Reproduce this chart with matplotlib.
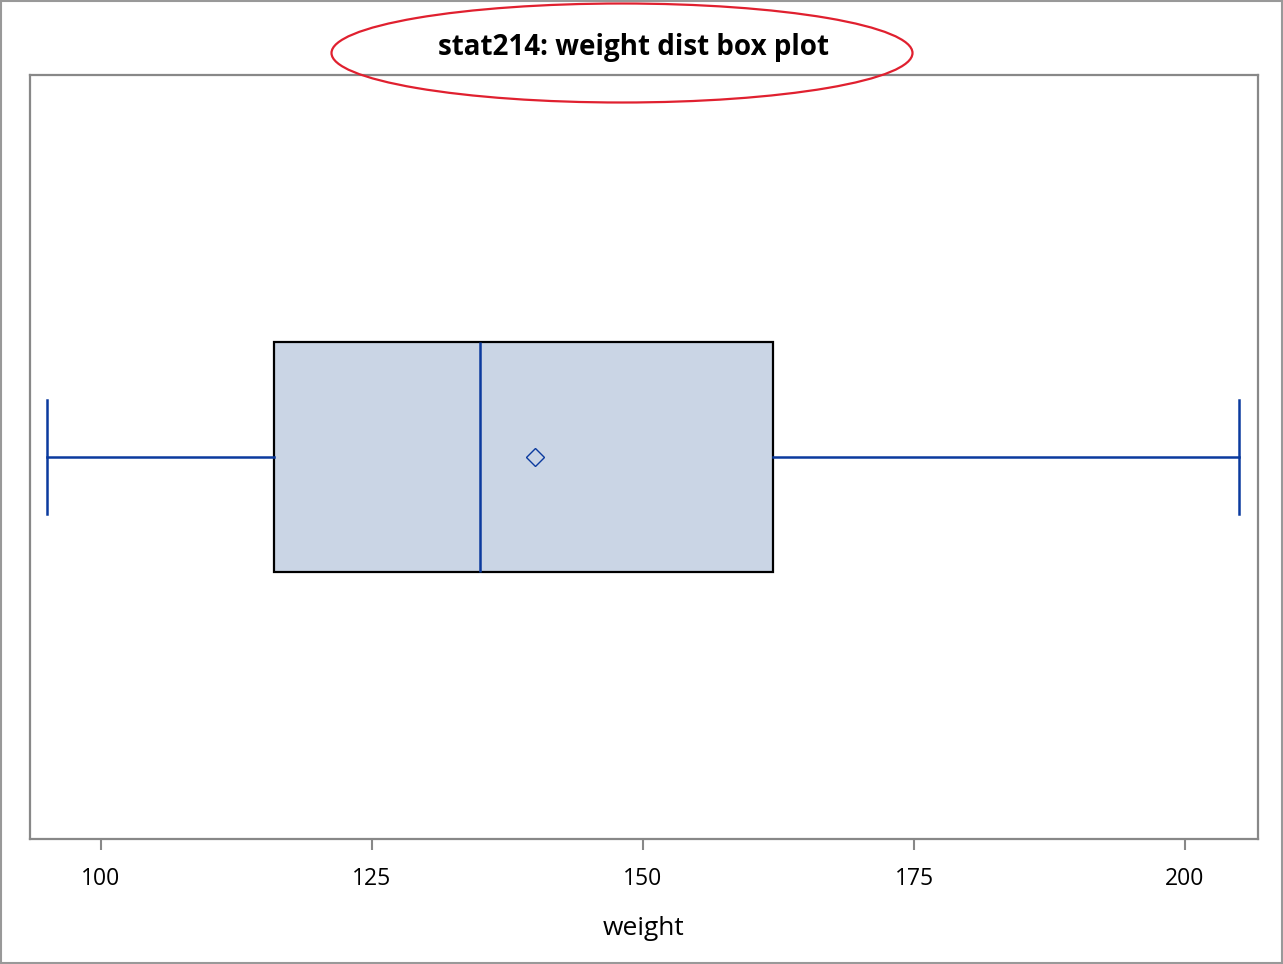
import matplotlib.pyplot as plt
from matplotlib.patches import Ellipse, Rectangle

# summary statistics for weight
w_min = 95
w_q1 = 116
w_med = 135
w_mean = 140
w_q3 = 162
w_max = 205
ticks = [100, 125, 150, 175, 200]

plt.rcParams['font.family'] = ['Open Sans', 'DejaVu Sans']

fig = plt.figure(figsize=(12.83, 9.64), dpi=100)
ax = fig.add_axes([30 / 1283, 125 / 964, 1228 / 1283, 764 / 964])

stats = [{'whislo': w_min, 'q1': w_q1, 'med': w_med, 'mean': w_mean,
          'q3': w_q3, 'whishi': w_max, 'fliers': []}]
blue = '#0B3A9E'
ax.bxp(stats, positions=[0.5], widths=0.3, vert=False, patch_artist=True,
       showmeans=True, capwidths=0.15,
       boxprops=dict(facecolor='#CAD5E5', edgecolor='black', linewidth=1.6),
       medianprops=dict(color=blue, linewidth=1.8),
       whiskerprops=dict(color=blue, linewidth=1.8),
       capprops=dict(color=blue, linewidth=1.8),
       meanprops=dict(marker='D', markersize=9, markerfacecolor='none',
                      markeredgecolor=blue, markeredgewidth=1.0))

ax.set_xlim(93.45, 206.73)
ax.set_ylim(0, 1)
ax.set_xticks(ticks)
ax.set_xticklabels([str(t) for t in ticks])
ax.set_yticks([])
ax.tick_params(axis='x', length=8, width=1.5, color='#888888', labelsize=16.5, pad=12)
for sp in ax.spines.values():
    sp.set_color('#888888')
    sp.set_linewidth(1.6)
ax.set_xlabel('weight', fontsize=19, labelpad=18)

fig.text(634 / 1283, 1 - 47 / 964, 'stat214: weight dist box plot',
         ha='center', va='center', fontsize=20, fontweight='bold')

# red ring around the title
fig.patches.append(Ellipse((622 / 1283, 1 - 53 / 964), 581 / 1283, 99 / 964,
                           transform=fig.transFigure, fill=False,
                           edgecolor='#E0202F', linewidth=1.6))
# grey frame around the whole figure
fig.patches.append(Rectangle((1 / 1283, 1 / 964), 1281 / 1283, 962 / 964,
                             transform=fig.transFigure, fill=False,
                             edgecolor='#999999', linewidth=1.5))

fig.savefig('out.png', dpi=100)
